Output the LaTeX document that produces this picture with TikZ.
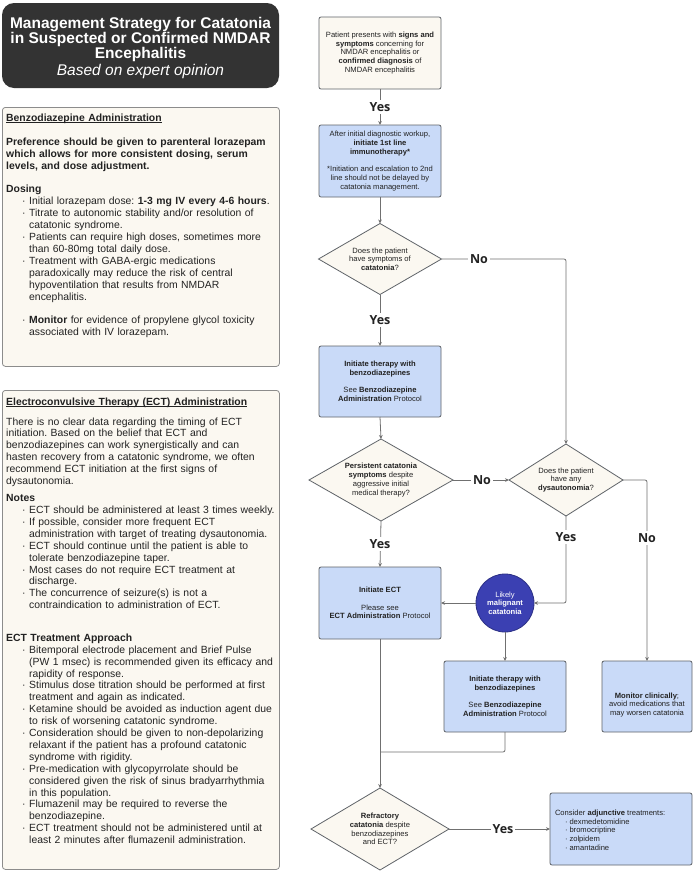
\documentclass[tikz,border=0pt]{standalone}
\usepackage{fontspec}
\setmainfont{Liberation Sans}
\newfontfamily\yesfont{Open Sans}
\usetikzlibrary{shapes.geometric,arrows.meta}
\frenchspacing
\definecolor{cream}{HTML}{FBF8F1}
\definecolor{blueboxc}{HTML}{C9DAF8}
\definecolor{dkblue}{HTML}{3B40B2}
\definecolor{titlebg}{HTML}{333333}
\definecolor{linegray}{HTML}{707070}
\definecolor{txt}{HTML}{222222}
\definecolor{bordergray}{HTML}{5F6368}
\definecolor{panelborder}{HTML}{8C8C8C}
\newcommand\myul[1]{\setbox0\hbox{#1}\rlap{\rule[-1.6pt]{\wd0}{0.8pt}}\box0}
\newcommand\bul{\hspace*{16pt}\makebox[7pt][l]{·}}
\newcommand\cnt{\hspace*{23pt}}
\newcommand\sbul{\hspace*{10pt}\makebox[4.5pt][l]{·}}
\begin{document}
\begin{tikzpicture}[x=1pt,y=-1pt,
  base/.style={font=\fontsize{7.6}{8.7}\selectfont, text=txt, align=center, inner sep=0pt, outer sep=0pt},
  creambox/.style={base, draw=bordergray, fill=cream, rounded corners=2pt, line width=0.8pt, minimum width=122pt, minimum height=72pt},
  bluebox/.style={creambox, fill=blueboxc},
  decision/.style={base, diamond, draw=bordergray, fill=cream, line width=0.8pt, aspect=1.7},
  conn/.style={draw=linegray, line width=0.8pt, rounded corners=2pt},
  arr/.style={conn, -{Stealth[length=4pt,width=3.6pt]}},
  lab/.style={font=\yesfont\bfseries\fontsize{12.5}{12.5}\selectfont, text=txt, fill=white, inner sep=2pt},
  panel/.style={draw=panelborder, fill=cream, rounded corners=3pt, line width=0.8pt, anchor=north west},
  ptext/.style={font=\fontsize{10.4}{11.9}\selectfont, text=txt, align=left, inner sep=0pt, anchor=base west, text width=275pt},
  titlebox/.style={fill=titlebg, rounded corners=12pt},
  titletext/.style={text=white, align=center, inner sep=0pt, font=\bfseries\fontsize{15.5}{15}\selectfont}
]
\fill[white] (0,0) rectangle (694,873);
\useasboundingbox (0,0) rectangle (694,873);

% ---------- title ----------
\node[titlebox, minimum width=277pt, minimum height=85pt] (title) at (140.5,45.5) {};
\node[titletext] (titlelines) at (140.5,47.5)
  {Management Strategy for Catatonia\\ in Suspected or Confirmed NMDAR\\ Encephalitis\\[2pt]
   {\mdseries\itshape Based on expert opinion}};

% ---------- benzodiazepine panel ----------
\node[panel, minimum width=277pt, minimum height=259pt] (benzo) at (2,107) {};
\node[ptext] (benzotext) at (6,121.5) {%
\myul{\textbf{Benzodiazepine Administration}}\\[11.9pt]
\textbf{Preference should be given to parenteral lorazepam}\\
\textbf{which allows for more consistent dosing, serum}\\
\textbf{levels, and dose adjustment.}\\[11.9pt]
\textbf{Dosing}\\
\bul Initial lorazepam dose: \textbf{1-3 mg IV every 4-6 hours}.\\
\bul Titrate to autonomic stability and/or resolution of\\
\cnt catatonic syndrome.\\
\bul Patients can require high doses, sometimes more\\
\cnt than 60-80mg total daily dose.\\
\bul Treatment with GABA-ergic medications\\
\cnt paradoxically may reduce the risk of central\\
\cnt hypoventilation that results from NMDAR\\
\cnt encephalitis.\\[11.9pt]
\bul \textbf{Monitor} for evidence of propylene glycol toxicity\\
\cnt associated with IV lorazepam.};

% ---------- ECT panel ----------
\node[panel, minimum width=277pt, minimum height=479pt] (ectpanel) at (2,390) {};
\node[ptext] (ecthead) at (6,405.6) {\myul{\textbf{Electroconvulsive Therapy (ECT) Administration}}};
\node[ptext] (ectpara) at (6,425) {%
There is no clear data regarding the timing of ECT\\
initiation. Based on the belief that ECT and\\
benzodiazepines can work synergistically and can\\
hasten recovery from a catatonic syndrome, we often\\
recommend ECT initiation at the first signs of\\
dysautonomia.};
\node[ptext] (ectnotes) at (6,501.6) {%
\textbf{Notes}\\
\bul ECT should be administered at least 3 times weekly.\\
\bul If possible, consider more frequent ECT\\
\cnt administration with target of treating dysautonomia.\\
\bul ECT should continue until the patient is able to\\
\cnt tolerate benzodiazepine taper.\\
\bul Most cases do not require ECT treatment at\\
\cnt discharge.\\
\bul The concurrence of seizure(s) is not a\\
\cnt contraindication to administration of ECT.};
\node[ptext] (ectappr) at (6,641.3) {%
\textbf{ECT Treatment Approach}\\
\bul Bitemporal electrode placement and Brief Pulse\\
\cnt (PW 1 msec) is recommended given its efficacy and\\
\cnt rapidity of response.\\
\bul Stimulus dose titration should be performed at first\\
\cnt treatment and again as indicated.\\
\bul Ketamine should be avoided as induction agent due\\
\cnt to risk of worsening catatonic syndrome.\\
\bul Consideration should be given to non-depolarizing\\
\cnt relaxant if the patient has a profound catatonic\\
\cnt syndrome with rigidity.\\
\bul Pre-medication with glycopyrrolate should be\\
\cnt considered given the risk of sinus bradyarrhythmia\\
\cnt in this population.\\
\bul Flumazenil may be required to reverse the\\
\cnt benzodiazepine.\\
\bul ECT treatment should not be administered until at\\
\cnt least 2 minutes after flumazenil administration.};

% ---------- flowchart nodes ----------
\node[creambox] (start) at (380,53)
  {Patient presents with \textbf{signs and}\\ \textbf{symptoms} concerning for\\ NMDAR encephalitis or\\
   \textbf{confirmed diagnosis} of\\ NMDAR encephalitis};
\node[bluebox] (immuno) at (380,161)
  {After initial diagnostic workup,\\ \textbf{initiate 1st line}\\ \textbf{immunotherapy*}\\[8.7pt]
   *Initiation and escalation to 2nd\\ line should not be delayed by\\ catatonia management.};
\node[decision, minimum width=123pt, minimum height=71pt] (q1) at (380,259)
  {Does the patient\\ have symptoms of\\ \textbf{catatonia}?};
\node[bluebox, minimum height=71pt] (benzo1) at (380,381.5)
  {\textbf{Initiate therapy with}\\ \textbf{benzodiazepines}\\[8.7pt] See \textbf{Benzodiazepine}\\
   \textbf{Administration} Protocol};
\node[decision, minimum width=144pt, minimum height=82pt] (q2) at (381,480)
  {\textbf{Persistent catatonia}\\ \textbf{symptoms} despite\\ aggressive initial\\ medical therapy?};
\node[decision, minimum width=114pt, minimum height=72pt] (q3) at (566,480)
  {Does the patient\\ have any\\ \textbf{dysautonomia}?};
\node[bluebox] (ect) at (380,603)
  {\textbf{Initiate ECT}\\[8.7pt] Please see\\ \textbf{ECT Administration} Protocol};
\node[base, circle, fill=dkblue, draw=dkblue!75!black, line width=0.8pt, minimum size=58pt, text=white] (malig) at (505,603)
  {Likely\\ \textbf{malignant}\\ \textbf{catatonia}};
\node[bluebox, minimum height=71pt] (benzo2) at (505,696.5)
  {\textbf{Initiate therapy with}\\ \textbf{benzodiazepines}\\[8.7pt] See \textbf{Benzodiazepine}\\
   \textbf{Administration} Protocol};
\node[bluebox, minimum width=90pt, minimum height=71pt] (monitor) at (647,696.5) {};
\node[base] (monitortext) at (647,705)
  {\textbf{Monitor clinically};\\ avoid medications that\\ may worsen catatonia};
\node[decision, minimum width=138pt, minimum height=82pt] (q4) at (380,829)
  {\textbf{Refractory}\\ \textbf{catatonia} despite\\ benzodiazepines\\ and ECT?};
\node[bluebox, minimum width=142pt, minimum height=72pt] (adj) at (621,829) {};
\node[base, align=left, anchor=west] (adjtext) at (555,830)
  {Consider \textbf{adjunctive} treatments:\\ \sbul dexmedetomidine\\ \sbul bromocriptine\\
   \sbul zolpidem\\ \sbul amantadine};

% ---------- connectors ----------
\coordinate (join) at (380,752);
\draw[arr] (start) -- (immuno);
\draw[arr] (immuno) -- (q1);
\draw[arr] (q1.east) -| (q3.north);
\draw[arr] (q1.south) -- (benzo1.north);
\draw[arr] (benzo1.south) -- (q2.north);
\draw[arr] (q2.east) -- (q3.west);
\draw[arr] (q2.south) -- (ect.north);
\draw[arr] (q3.south) |- (malig.east);
\draw[arr] (q3.east) -| (monitor.north);
\draw[arr] (malig.west) -- (ect.east);
\draw[arr] (malig.south) -- (benzo2.north);
\draw[conn] (benzo2.south) |- (join);
\draw[arr] (ect.south) -- (q4.north);
\draw[arr] (q4.east) -- (adj.west);

% ---------- connector labels ----------
\node[lab] (l1) at (380,107) {Yes};
\node[lab] (l2) at (479,259) {No};
\node[lab] (l3) at (380,320) {Yes};
\node[lab] (l4) at (482,480) {No};
\node[lab] (l5) at (380,544) {Yes};
\node[lab] (l6) at (566,537) {Yes};
\node[lab] (l7) at (647,538) {No};
\node[lab] (l8) at (503,829) {Yes};
\end{tikzpicture}
\end{document}
